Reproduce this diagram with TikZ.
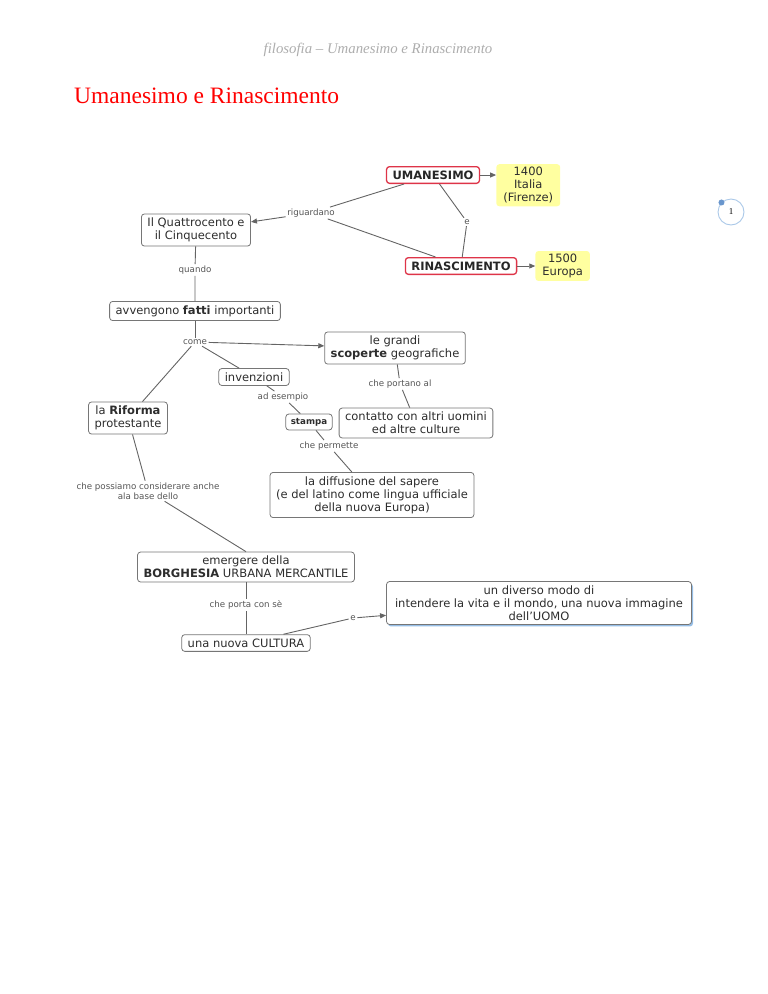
\documentclass[tikz,border=0pt]{standalone}
\usepackage{fontspec}
\setmainfont{DejaVu Sans}
\newfontfamily\docserif[Ligatures=TeX]{Liberation Serif}
\usetikzlibrary{arrows.meta,positioning,shadows}
\definecolor{CmapText}{RGB}{45,45,45}
\definecolor{CmapLabel}{RGB}{85,85,85}
\definecolor{CmapBorder}{RGB}{118,118,118}
\definecolor{CmapLine}{RGB}{100,100,100}
\definecolor{CmapRed}{RGB}{222,52,72}
\definecolor{CmapYellow}{RGB}{255,255,160}
\definecolor{CmapShadow}{RGB}{150,190,230}
\definecolor{PageBlue}{RGB}{170,200,232}
\definecolor{PageDot}{RGB}{105,150,205}
\tikzset{
  concept/.style={draw=CmapBorder, rounded corners=3pt, align=center,
    fill=white, text=CmapText, font=\fontsize{11.5}{13}\selectfont,
    inner xsep=6pt, inner ysep=4pt, line width=0.8pt},
  keyconcept/.style={draw=CmapRed, rounded corners=3pt, align=center,
    fill=white, text=black!85, font=\fontsize{11.5}{13}\selectfont\bfseries,
    inner xsep=6pt, inner ysep=4pt, line width=1.3pt},
  datebox/.style={fill=CmapYellow, rounded corners=3pt, align=center,
    text=CmapText, font=\fontsize{11.5}{13}\selectfont,
    inner xsep=7pt, inner ysep=3pt},
  linkword/.style={text=CmapLabel, align=center, inner sep=1.5pt,
    font=\fontsize{8.7}{10.5}\selectfont},
  cmapline/.style={draw=CmapLine, line width=0.9pt},
  cmaparrow/.style={cmapline, -{Triangle[length=6pt,width=5pt]}}
}
\begin{document}
\begin{tikzpicture}[x=1pt,y=-1pt]
  \useasboundingbox (0,0) rectangle (768,994);
  % page header and title
  \node[text=black!32, font=\docserif\fontsize{14.8}{16}\selectfont\itshape,
    anchor=base] (header) at (378,53) {filosofia \textendash{} Umanesimo e Rinascimento};
  \node[text=red, font=\docserif\fontsize{23.5}{26}\selectfont,
    anchor=base west, inner sep=0pt] (title) at (74,103) {Umanesimo e Rinascimento};
  \node[circle, draw=PageBlue, line width=0.9pt, minimum size=26pt,
    font=\docserif\fontsize{9}{10}\selectfont] (pagenum) at (731,212) {1};
  \fill[PageDot] (pagenum.135) circle (3pt);

  % concepts
  \node[keyconcept] (uman) at (433,175) {UMANESIMO};
  \node[datebox, right=16pt of uman.north east, anchor=north west, yshift=2pt]
    (d1400) {1400\\Italia\\(Firenze)};
  \node[keyconcept] (rinas) at (461,266) {RINASCIMENTO};
  \node[datebox, right=18pt of rinas] (d1500) {1500\\Europa};
  \node[concept] (secoli) at (196,230) {Il Quattrocento e\\il Cinquecento};
  \node[concept] (fatti) at (195,311) {avvengono \textbf{fatti} importanti};
  \node[concept] (scoperte) at (395,348) {le grandi\\\textbf{scoperte} geografiche};
  \node[concept] (invenz) at (254,377) {invenzioni};
  \node[concept] (riforma) at (128,418) {la \textbf{Riforma}\\protestante};
  \node[concept, font=\fontsize{8.7}{10.5}\selectfont\bfseries, inner xsep=5pt,
    inner ysep=4pt] (stampa) at (309,422) {stampa};
  \node[concept] (contatto) at (416,423) {contatto con altri uomini\\ed altre culture};
  \node[concept] (diffus) at (372,495)
    {la diffusione del sapere\\(e del latino come lingua ufficiale\\della nuova Europa)};
  \node[concept] (borghesia) at (246,567) {emergere della\\\textbf{BORGHESIA} URBANA MERCANTILE};
  \node[concept] (cultura) at (246,643) {una nuova CULTURA};
  \node[concept, drop shadow={shadow xshift=1.5pt, shadow yshift=-2pt,
    fill=CmapShadow, opacity=1}, minimum width=305pt] (uomo) at (539,603)
    {un diverso modo di\\intendere la vita e il mondo, una nuova immagine\\dell'UOMO};

  % linking words
  \node[linkword] (riguard) at (311,213) {riguardano};
  \node[linkword] (e1) at (467,222) {e};
  \node[linkword] (quando) at (195,270) {quando};
  \node[linkword] (come) at (195,342) {come};
  \node[linkword] (portano) at (400,384) {che portano al};
  \node[linkword] (esempio) at (283,397) {ad esempio};
  \node[linkword] (permette) at (329,446) {che permette};
  \node[linkword] (base) at (148,491) {che possiamo considerare anche\\ala base dello};
  \node[linkword] (porta) at (246,605) {che porta con sè};
  \node[linkword] (e2) at (353,618) {e};

  % connectors
  \draw[cmaparrow] (uman.east) -- (uman.east -| d1400.west);
  \draw[cmaparrow] (rinas) -- (d1500);
  \draw[cmapline] (uman) -- (riguard);
  \draw[cmapline] (rinas) -- (riguard);
  \draw[cmaparrow] (riguard) -- (secoli);
  \draw[cmapline] (uman) -- (e1) -- (rinas);
  \draw[cmapline] (secoli) -- (quando) -- (fatti);
  \draw[cmapline] (fatti) -- (come);
  \draw[cmaparrow] (come) -- (scoperte);
  \draw[cmapline] (come) -- (invenz);
  \draw[cmapline] (come) -- (riforma);
  \draw[cmapline] (scoperte) -- (portano) -- (contatto);
  \draw[cmapline] (invenz) -- (esempio) -- (stampa);
  \draw[cmapline] (stampa) -- (permette) -- (diffus);
  \draw[cmapline] (riforma) -- (base);
  \draw[cmapline] (base) -- (borghesia.north);
  \draw[cmapline] (borghesia) -- (porta) -- (cultura);
  \draw[cmapline] (cultura) -- (e2);
  \draw[cmaparrow] (e2) -- (uomo);
\end{tikzpicture}
\end{document}
